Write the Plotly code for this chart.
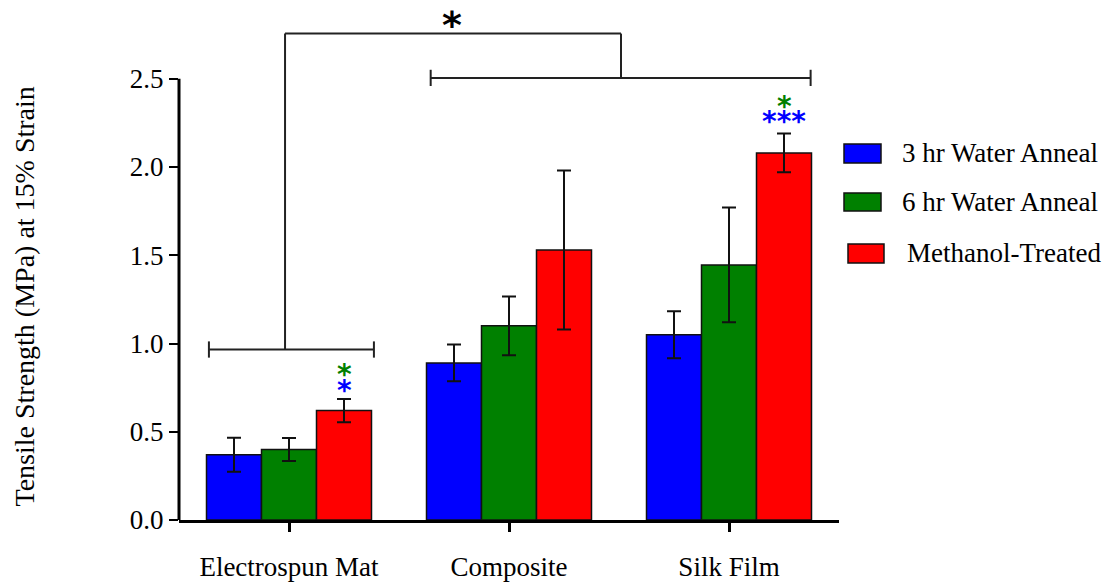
import plotly.graph_objects as go

categories = ["Electrospun Mat", "Composite", "Silk Film"]
series_names = ["3 hr Water Anneal", "6 hr Water Anneal", "Methanol-Treated"]
series_colors = ["#0000FF", "#008000", "#FF0000"]
means = [
    [0.37, 0.89, 1.05],   # 3 hr water anneal
    [0.40, 1.10, 1.445],  # 6 hr water anneal
    [0.62, 1.53, 2.08],   # methanol-treated
]
errors = [
    [0.096, 0.104, 0.133],
    [0.065, 0.166, 0.325],
    [0.066, 0.450, 0.110],
]
y_ticks = [0.0, 0.5, 1.0, 1.5, 2.0, 2.5]
y_tick_labels = ["0.0", "0.5", "1.0", "1.5", "2.0", "2.5"]
y_title = "Tensile Strength (MPa) at 15% Strain"

OFF = 8  # page body margin offset
W, H = 1111 - OFF, 586 - OFF
PL, PR, PT, PB = 179, 839, 17, 520   # plot area in window pixels
Y_MAX = 2.85
SERIF = "Liberation Serif, Times New Roman, serif"
SANS = "DejaVu Sans, sans-serif"
FS = 27


def px2paper_x(px):
    return (px - PL) / (PR - PL)


def py2paper_y(py):
    return (PB - py) / (PB - PT)


fig = go.Figure()
for name, col, vals, errs in zip(series_names, series_colors, means, errors):
    fig.add_trace(go.Bar(
        x=categories, y=vals, name=name, showlegend=False,
        marker=dict(color=col, line=dict(color="#111111", width=1.5)),
        error_y=dict(type="data", array=errs, visible=True,
                     color="#111111", thickness=2, width=7),
    ))

shapes = []
# left y axis line (only up to 2.5)
shapes.append(dict(type="line", xref="paper", yref="y", x0=0, x1=0, y0=0, y1=2.5,
                   line=dict(color="black", width=3)))

bl = dict(color="#222222", width=2)
tick_h = 0.046
# left bracket (Electrospun group)
lb_y, lb_x0, lb_x1, lb_c = 0.966, -0.364, 0.386, -0.018
# right bracket (Composite + Silk Film)
rb_y, rb_x0, rb_x1, rb_c = 2.505, 0.644, 2.371, 1.509
top_y = 2.756
for (y, x0, x1) in [(lb_y, lb_x0, lb_x1), (rb_y, rb_x0, rb_x1)]:
    shapes.append(dict(type="line", xref="x", yref="y", x0=x0, x1=x1, y0=y, y1=y, line=bl))
    for xe in (x0, x1):
        shapes.append(dict(type="line", xref="x", yref="y", x0=xe, x1=xe,
                           y0=y - tick_h, y1=y + tick_h, line=bl))
shapes.append(dict(type="line", xref="x", yref="y", x0=lb_c, x1=lb_c, y0=lb_y, y1=top_y, line=bl))
shapes.append(dict(type="line", xref="x", yref="y", x0=rb_c, x1=rb_c, y0=rb_y, y1=top_y, line=bl))
shapes.append(dict(type="line", xref="x", yref="y", x0=lb_c, x1=rb_c, y0=top_y, y1=top_y, line=bl))

annotations = []
# big significance star
annotations.append(dict(xref="x", yref="y", x=0.741, y=2.83, text="<b>*</b>", showarrow=False,
                        height=30, valign="middle",
                        font=dict(family=SANS, size=38, color="black"), yshift=-4))
# small stars over methanol bars
small = [(0.25, 0.840, "*", "#008000"), (0.25, 0.751, "*", "#0000FF"),
         (2.25, 2.36, "*", "#008000"), (2.25, 2.275, "***", "#0000FF")]
for x, y, t, c in small:
    annotations.append(dict(xref="x", yref="y", x=x, y=y, text="<b>" + t + "</b>", showarrow=False,
                            font=dict(family=SANS, size=28, color=c), yshift=-3))

# y axis title
annotations.append(dict(xref="paper", yref="paper", x=px2paper_x(24), y=py2paper_y(296.5),
                        text=y_title, textangle=-90, showarrow=False,
                        xanchor="center", yanchor="middle",
                        font=dict(family=SERIF, size=28, color="black")))

# custom legend
leg_rows = [(844, 881, 144, 163, 900, 153), (844, 881, 193, 211, 900, 202),
            (848, 884, 244, 263, 905, 253)]
for (x0, x1, y0, y1, tx, ty), name, col in zip(leg_rows, series_names, series_colors):
    shapes.append(dict(type="rect", xref="paper", yref="paper",
                       x0=px2paper_x(x0), x1=px2paper_x(x1),
                       y0=py2paper_y(y1), y1=py2paper_y(y0),
                       fillcolor=col, line=dict(color="#111111", width=1.5)))
    annotations.append(dict(xref="paper", yref="paper", x=px2paper_x(tx), y=py2paper_y(ty),
                            text=name, showarrow=False, xanchor="left", yanchor="middle",
                            font=dict(family=SERIF, size=FS, color="black")))

fig.update_layout(
    width=W, height=H,
    margin=dict(l=PL - OFF, r=(W + OFF) - PR, t=PT - OFF, b=(H + OFF) - PB, autoexpand=False),
    paper_bgcolor="white", plot_bgcolor="white",
    barmode="group", bargap=0.25, bargroupgap=0,
    shapes=shapes, annotations=annotations,
    xaxis=dict(type="category", range=[-0.5, 2.5], showline=True, linecolor="black", linewidth=3,
               ticks="outside", ticklen=9, tickwidth=3, tickcolor="black",
               showgrid=False, zeroline=False, ticklabelstandoff=12,
               tickfont=dict(family=SERIF, size=FS, color="black")),
    yaxis=dict(range=[0, Y_MAX], tickvals=y_ticks, ticktext=y_tick_labels,
               showline=False, ticks="outside", ticklen=9, tickwidth=2, tickcolor="black",
               showgrid=False, zeroline=False,
               tickfont=dict(family=SERIF, size=FS, color="black")),
)

fig.write_html("out.html")
